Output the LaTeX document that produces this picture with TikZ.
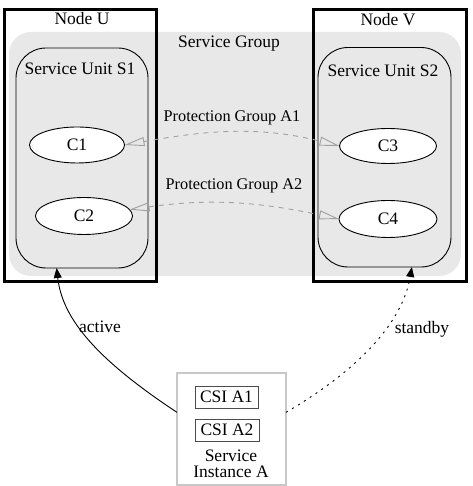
\documentclass[tikz,border=0pt]{standalone}
\usepackage{fontspec}
\setmainfont{Liberation Serif}
\usetikzlibrary{shapes.geometric,arrows.meta}
\definecolor{sggray}{HTML}{E8E8E8}
\definecolor{pggray}{HTML}{A0A0A0}
\definecolor{sibord}{HTML}{C8C8C8}
\begin{document}
\begin{tikzpicture}[x=1pt,y=1pt,
  font=\fontsize{17.5}{20}\selectfont,
  hostbox/.style={draw=black,line width=3pt,rectangle,inner sep=0pt,outer sep=0pt},
  unitbox/.style={draw=black,line width=0.9pt,rectangle,rounded corners=30pt,inner sep=0pt,outer sep=0pt},
  comp/.style={draw=black,fill=white,line width=0.9pt,ellipse,inner sep=0pt,outer sep=0pt},
  lbl/.style={inner sep=0pt,anchor=center},
  plbl/.style={inner sep=0pt,anchor=center,font=\fontsize{16.3}{18}\selectfont},
  pgline/.style={draw=pggray,line width=0.9pt,dash pattern=on 5pt off 5pt,
     arrows={Triangle[open,length=20pt,width=9pt]-Triangle[open,length=20pt,width=9pt]}},
  assign/.style={draw=black,line width=0.9pt,-{Triangle[length=10pt,width=8pt]}},
]
\useasboundingbox (0,0) rectangle (472,486);
% service group background
\node[fill=sggray,rectangle,rounded corners=22pt,minimum width=452pt,minimum height=244pt,inner sep=0pt] (sg) at (235,332) {};
\node[lbl] (sglbl) at (229,442) {Service Group};
% host nodes
\node[hostbox,minimum width=152pt,minimum height=272pt] (nodeU) at (80.5,340.5) {};
\node[hostbox,minimum width=153.5pt,minimum height=271.5pt] (nodeV) at (389.75,340.25) {};
\node[lbl] (nodeUlbl) at (82,467) {Node U};
\node[lbl] (nodeVlbl) at (388,466) {Node V};
% service units
\node[unitbox,minimum width=132pt,minimum height=220pt] (S1) at (82,328) {};
\node[unitbox,minimum width=133pt,minimum height=219.5pt] (S2) at (384.5,328.75) {};
\node[lbl] (S1lbl) at (80,417) {Service Unit S1};
\node[lbl] (S2lbl) at (383,415) {Service Unit S2};
% components
\node[comp,minimum width=95pt,minimum height=36pt] (C1) at (77,341) {C1};
\node[comp,minimum width=97pt,minimum height=37pt] (C2) at (84,270) {C2};
\node[comp,minimum width=97pt,minimum height=35pt] (C3) at (388,340) {C3};
\node[comp,minimum width=98pt,minimum height=37pt] (C4) at (388,267) {C4};
% protection groups
\node[plbl] (pga1) at (232,368) {Protection Group A1};
\node[plbl] (pga2) at (234,300) {Protection Group A2};
\draw[pgline] (C1.east) to[out=10,in=166] (C3.west);
\draw[pgline] (C2) to[out=8,in=168] (C4.west);
% service instance
\node[draw=sibord,fill=white,line width=1.5pt,rectangle,minimum width=109pt,minimum height=112pt,inner sep=0pt,outer sep=0pt] (si) at (231.5,57) {};
\node[draw=black!70,line width=0.8pt,rectangle,minimum width=63pt,minimum height=22pt,inner sep=0pt] (csi1) at (226.5,89) {CSI A1};
\node[draw=black!70,line width=0.8pt,rectangle,minimum width=64pt,minimum height=22pt,inner sep=0pt] (csi2) at (227,56) {CSI A2};
\node[lbl,align=center,font=\fontsize{17.5}{16.5}\selectfont] (silbl) at (231,22) {Service\\Instance A};
% assignments
\draw[assign] (si.163) .. controls (90,131) and (62,171) .. (S1.257);
\draw[assign,dash pattern=on 2pt off 5pt] (si.17) .. controls (355,114) and (402,161) .. (S2.284);
\node[lbl] (activelbl) at (100,159) {active};
\node[lbl] (standbylbl) at (422,157) {standby};
\end{tikzpicture}
\end{document}
